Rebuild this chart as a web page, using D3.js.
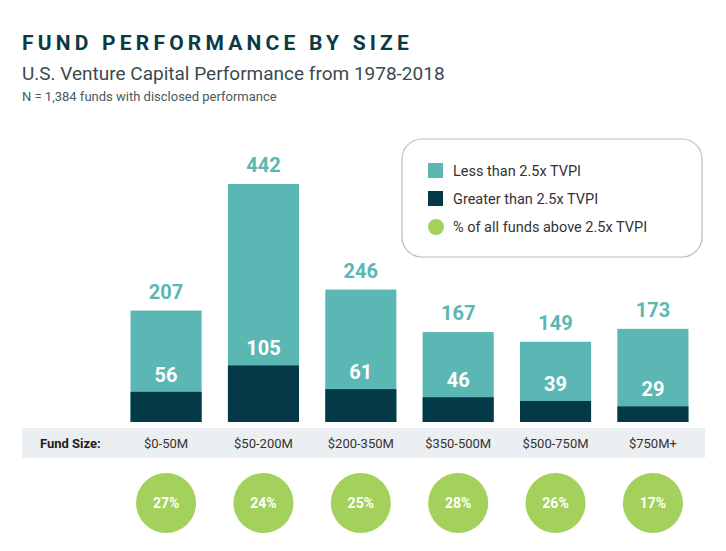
<!DOCTYPE html>
<html><head><meta charset="utf-8">
<script src="https://cdn.jsdelivr.net/npm/d3@7"></script>
<style>body{margin:0;background:#fff;}</style>
</head><body><svg id="c" width="726" height="551"></svg>
<script>
const categories = ["$0-50M","$50-200M","$200-350M","$350-500M","$500-750M","$750M+"];
const totalFunds = [207,442,246,167,149,173];
const aboveFunds = [56,105,61,46,39,29];
const pctAbove = ["27%","24%","25%","28%","26%","17%"];
const legendLabels = ["Less than 2.5x TVPI","Greater than 2.5x TVPI","% of all funds above 2.5x TVPI"];

const light="#5ab7b3", dark="#043a47", green="#a3d15b", font="Roboto, 'Open Sans', sans-serif";
const svg=d3.select("#c").style("font-family",font);

svg.append("text").attr("x",22).attr("y",50).text("FUND PERFORMANCE BY SIZE")
  .attr("font-size",21).attr("font-weight",700).attr("letter-spacing",4.2).attr("fill","#0c3a44");
svg.append("text").attr("x",22).attr("y",80).text("U.S. Venture Capital Performance from 1978-2018")
  .attr("font-size",19).attr("fill","#3a4a50");
svg.append("text").attr("x",22).attr("y",101).text("N = 1,384 funds with disclosed performance")
  .attr("font-size",13).attr("fill","#4a5a60");

const x=d3.scaleBand().domain(categories).range([114,705]).paddingInner(0.27).paddingOuter(0.17);
const y=d3.scaleLinear().domain([0,442]).range([422,184]);

svg.append("rect").attr("x",22).attr("y",428).attr("width",683).attr("height",30).attr("fill","#eceff1");
svg.append("text").attr("x",40).attr("y",448).text("Fund Size:").attr("font-size",13).attr("font-weight",700).attr("fill","#222");

const g=svg.selectAll(".b").data(categories).enter().append("g");
g.append("rect").attr("x",d=>x(d)).attr("width",x.bandwidth())
  .attr("y",(d,i)=>y(totalFunds[i])).attr("height",(d,i)=>y(0)-y(totalFunds[i])).attr("fill",light);
g.append("rect").attr("x",d=>x(d)).attr("width",x.bandwidth())
  .attr("y",(d,i)=>y(aboveFunds[i])).attr("height",(d,i)=>y(0)-y(aboveFunds[i])).attr("fill",dark);
g.append("text").attr("x",d=>x(d)+x.bandwidth()/2).attr("y",(d,i)=>y(totalFunds[i])-12)
  .attr("text-anchor","middle").attr("font-size",20).attr("font-weight",700).attr("fill",light).text((d,i)=>totalFunds[i]);
g.append("text").attr("x",d=>x(d)+x.bandwidth()/2).attr("y",(d,i)=>y(aboveFunds[i])-10)
  .attr("text-anchor","middle").attr("font-size",20).attr("font-weight",700).attr("fill","#fff").text((d,i)=>aboveFunds[i]);
g.append("text").attr("x",d=>x(d)+x.bandwidth()/2).attr("y",448)
  .attr("text-anchor","middle").attr("font-size",13).attr("fill","#333").text(d=>d);
g.append("circle").attr("cx",d=>x(d)+x.bandwidth()/2).attr("cy",503).attr("r",30).attr("fill",green);
g.append("text").attr("x",d=>x(d)+x.bandwidth()/2).attr("y",508)
  .attr("text-anchor","middle").attr("font-size",14).attr("font-weight",700).attr("fill","#fff").text((d,i)=>pctAbove[i]);

svg.append("rect").attr("x",402).attr("y",139).attr("width",300).attr("height",118).attr("rx",20)
  .attr("fill","#fff").attr("stroke","#b8c0c4").attr("stroke-width",1.2);
legendLabels.forEach((t,i)=>{
  const yy=171+i*28;
  if(i<2) svg.append("rect").attr("x",428).attr("y",yy-8).attr("width",15).attr("height",15).attr("fill",i?dark:light);
  else svg.append("circle").attr("cx",436).attr("cy",yy).attr("r",8).attr("fill",green);
  svg.append("text").attr("x",453).attr("y",yy+5).text(t).attr("font-size",14.5).attr("fill","#333");
});
</script></body></html>
